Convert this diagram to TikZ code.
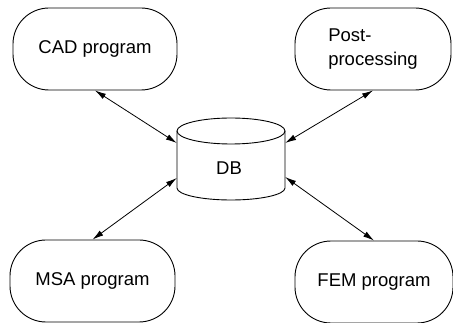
\documentclass[tikz,border=0pt]{standalone}
\usepackage{fontspec}
\setmainfont{Liberation Sans}
\usetikzlibrary{arrows.meta}
\begin{document}
\begin{tikzpicture}[x=1pt,y=-1pt,
  prog/.style={draw, line width=0.9pt, rounded corners=36pt,
    minimum width=160pt, minimum height=82pt, inner sep=0pt,
    font=\fontsize{18.5}{24}\selectfont, align=left},
  link/.style={line width=0.8pt, {Latex[length=11pt,width=6pt]}-{Latex[length=11pt,width=6pt]}}]
\useasboundingbox (0,0) rectangle (453,323);
% application programs
\node[prog, minimum width=164pt] (cad) at (95,49) {CAD program};
\node[prog, minimum width=156pt] (post) at (373,49) {Post-\\processing};
\node[prog, minimum width=165pt] (msa) at (92.5,281) {MSA program};
\node[prog, minimum width=158pt] (fem) at (374,282) {FEM program};
% database cylinder
\node[minimum width=108pt, minimum height=82pt, inner sep=0pt] (db) at (231,159) {};
\node[font=\fontsize{18.5}{24}\selectfont] (dbl) at (229,168) {DB};
\draw[line width=0.9pt] (177,131) -- (177,188)
  arc[start angle=180, end angle=360, x radius=54, y radius=-12]
  -- (285,131);
\draw[line width=0.9pt] (231,131) ellipse[x radius=54, y radius=13];
% data links
\draw[link] (cad.south) -- ([yshift=16pt]db.west);
\draw[link] (post.south) -- ([yshift=16pt]db.east);
\draw[link] (msa.north) -- ([yshift=-19pt]db.west);
\draw[link] (fem.north) -- ([yshift=-18pt]db.east);
\end{tikzpicture}
\end{document}
